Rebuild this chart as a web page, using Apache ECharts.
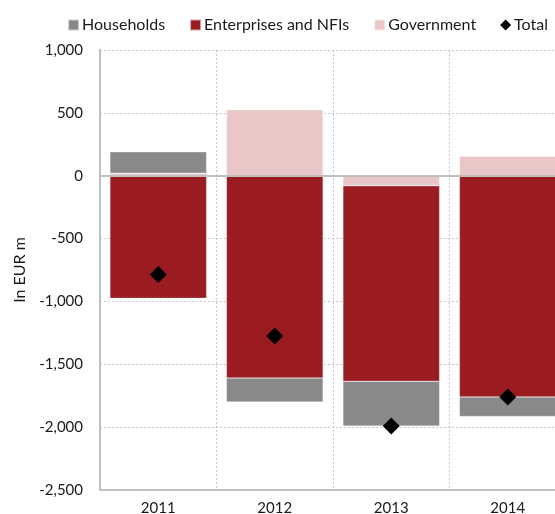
<!DOCTYPE html>
<html>
<head>
<meta charset="utf-8">
<script src="https://cdn.jsdelivr.net/npm/echarts@6/dist/echarts.min.js"></script>
<style>
  html, body { margin: 0; padding: 0; background: #fff; }
  #chart { width: 555px; height: 514px; }
</style>
</head>
<body>
<div id="chart"></div>
<script>
// Contributions by sector, EUR million
var years = ['2011', '2012', '2013', '2014'];
var households = [170, -190, -355, -155];
var enterprises = [-975, -1610, -1555, -1760];
var government = [20, 525, -80, 155];
var total = [-785, -1275, -1990, -1760];
var yTicks = { min: -2500, max: 1000, step: 500 };

var FONT = 'Lato, "Noto Sans", sans-serif';
var chart = echarts.init(document.getElementById('chart'));

var barBorder = { borderColor: 'rgba(255,255,255,0.6)', borderWidth: 0.5 };

chart.setOption({
  animation: false,
  textStyle: { fontFamily: FONT, color: '#1a1a1a' },
  legend: {
    right: 2,
    top: 12,
    itemGap: 24,
    itemWidth: 11,
    itemHeight: 11,
    textStyle: { fontFamily: FONT, fontSize: 16, color: '#1a1a1a', padding: [0, 0, 0, -2] },
    data: [
      { name: 'Households', icon: 'rect' },
      { name: 'Enterprises and NFIs', icon: 'rect' },
      { name: 'Government', icon: 'rect' },
      { name: 'Total', icon: 'diamond' }
    ]
  },
  grid: { left: 100, top: 50, width: 466, height: 440, outerBoundsMode: 'none', containLabel: false },
  xAxis: {
    type: 'category',
    data: years,
    position: 'bottom',
    axisLine: { onZero: false, lineStyle: { color: '#bfbfbf', width: 2 } },
    axisTick: { show: false },
    axisLabel: { fontFamily: FONT, fontSize: 15, color: '#1a1a1a', margin: 11 },
    splitLine: { show: true, lineStyle: { color: '#c8c8c8', type: [2, 2], width: 1 } }
  },
  yAxis: {
    type: 'value',
    min: yTicks.min,
    max: yTicks.max,
    interval: yTicks.step,
    name: 'In EUR m',
    nameLocation: 'middle',
    nameGap: 64,
    nameTextStyle: { fontFamily: FONT, fontSize: 16, color: '#1a1a1a' },
    axisLine: { show: true, lineStyle: { color: '#bfbfbf', width: 2 } },
    axisTick: { show: false },
    axisLabel: {
      fontFamily: FONT, fontSize: 15, color: '#1a1a1a', margin: 17,
      formatter: function (v) { return v.toLocaleString('en-US'); }
    },
    splitLine: { show: true, lineStyle: { color: '#c8c8c8', type: [2, 2], width: 1 } }
  },
  series: [
    {
      name: 'Government', type: 'bar', stack: 'sector', data: government,
      barCategoryGap: '17%',
      itemStyle: Object.assign({ color: '#ebc6c6' }, barBorder),
      markLine: {
        silent: true, symbol: 'none', label: { show: false },
        lineStyle: { color: '#bfbfbf', width: 2, type: 'solid' },
        data: [{ yAxis: 0 }]
      },
      z: 2
    },
    {
      name: 'Enterprises and NFIs', type: 'bar', stack: 'sector', data: enterprises,
      itemStyle: Object.assign({ color: '#9b1c20' }, barBorder),
      z: 2
    },
    {
      name: 'Households', type: 'bar', stack: 'sector', data: households,
      itemStyle: Object.assign({ color: '#898989' }, barBorder),
      z: 2
    },
    {
      name: 'Total', type: 'scatter', data: total,
      symbol: 'diamond', symbolSize: [17, 17],
      itemStyle: { color: '#000', opacity: 1 },
      z: 5
    }
  ]
});
</script>
</body>
</html>
